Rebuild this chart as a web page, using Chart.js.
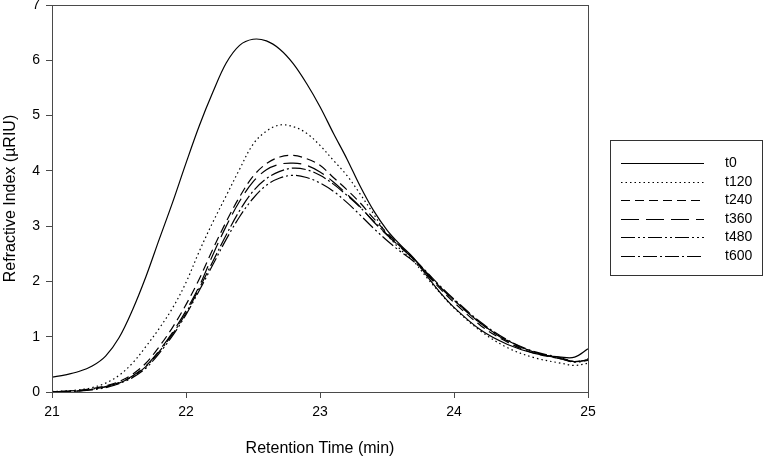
<!DOCTYPE html>
<html>
<head>
<meta charset="utf-8">
<script src="https://cdn.jsdelivr.net/npm/chart.js@4.4.0/dist/chart.umd.min.js"></script>
<style>
	html, body { margin: 0; padding: 0; background: #fff; }
</style>
</head>
<body>
<canvas id="chart" width="764" height="458"></canvas>
<script>
// retention time (min)
var times = [21.0, 21.1, 21.2, 21.3, 21.4, 21.5, 21.6, 21.7, 21.8, 21.9,
	22.0, 22.1, 22.2, 22.3, 22.4, 22.5, 22.6, 22.7, 22.8, 22.9,
	23.0, 23.1, 23.2, 23.3, 23.4, 23.5, 23.6, 23.7, 23.8, 23.9,
	24.0, 24.2, 24.4, 24.6, 24.8, 24.9, 25.0];

var t0 = [0.27, 0.31, 0.37, 0.47, 0.65, 0.98, 1.48, 2.08, 2.76, 3.43,
	4.14, 4.82, 5.42, 5.95, 6.27, 6.38, 6.35, 6.20, 5.94, 5.58,
	5.16, 4.68, 4.22, 3.72, 3.28, 2.93, 2.66, 2.42, 2.09, 1.79,
	1.53, 1.12, 0.86, 0.70, 0.63, 0.63, 0.78];
var t120 = [0.01, 0.02, 0.04, 0.08, 0.16, 0.30, 0.52, 0.82, 1.15, 1.52,
	1.98, 2.55, 3.07, 3.55, 4.03, 4.48, 4.72, 4.83, 4.80, 4.68,
	4.46, 4.19, 3.92, 3.58, 3.22, 2.85, 2.58, 2.36, 2.06, 1.78,
	1.52, 1.10, 0.80, 0.62, 0.52, 0.48, 0.52];
var t240 = [0.00, 0.01, 0.03, 0.06, 0.11, 0.19, 0.32, 0.52, 0.82, 1.17,
	1.58, 2.05, 2.58, 3.08, 3.53, 3.90, 4.13, 4.25, 4.28, 4.22,
	4.10, 3.88, 3.66, 3.42, 3.14, 2.88, 2.64, 2.40, 2.12, 1.86,
	1.62, 1.20, 0.90, 0.70, 0.60, 0.55, 0.58];
var t360 = [0.00, 0.01, 0.02, 0.05, 0.10, 0.17, 0.29, 0.47, 0.75, 1.08,
	1.47, 1.92, 2.48, 3.00, 3.45, 3.80, 4.02, 4.12, 4.14, 4.10,
	3.98, 3.80, 3.58, 3.35, 3.08, 2.84, 2.62, 2.40, 2.15, 1.89,
	1.66, 1.24, 0.92, 0.72, 0.60, 0.55, 0.60];
var t480 = [0.00, 0.01, 0.02, 0.04, 0.08, 0.15, 0.26, 0.43, 0.70, 1.02,
	1.40, 1.84, 2.30, 2.76, 3.17, 3.50, 3.74, 3.87, 3.92, 3.88,
	3.78, 3.63, 3.43, 3.20, 2.96, 2.74, 2.54, 2.36, 2.13, 1.89,
	1.66, 1.24, 0.93, 0.72, 0.60, 0.54, 0.57];
var t600 = [0.00, 0.01, 0.02, 0.05, 0.09, 0.16, 0.28, 0.46, 0.73, 1.05,
	1.43, 1.88, 2.36, 2.84, 3.28, 3.63, 3.86, 3.99, 4.05, 4.02,
	3.92, 3.76, 3.56, 3.34, 3.09, 2.85, 2.63, 2.41, 2.16, 1.91,
	1.68, 1.26, 0.94, 0.73, 0.62, 0.55, 0.58];

var seriesNames = ['t0', 't120', 't240', 't360', 't480', 't600'];
var seriesValues = [t0, t120, t240, t360, t480, t600];
var dashes = [[], [1.5, 3], [9, 5], [18, 7], [14, 3, 2, 3, 2, 3], [14, 3, 2, 3]];

var xTicks = [21, 22, 23, 24, 25];
var yTicks = [0, 1, 2, 3, 4, 5, 6, 7];

function points(values) {
	return values.map(function (v, i) {
		return { x: times[i], y: v };
	});
}

// box round the plot plus the legend with line samples
var framePlugin = {
	id: 'frame',
	afterDraw: function (chart) {
		var ctx = chart.ctx;
		var a = chart.chartArea;
		ctx.save();
		ctx.strokeStyle = '#4a4a4a';
		ctx.lineWidth = 1;
		ctx.strokeRect(Math.round(a.left) + 0.5, Math.round(a.top) + 0.5,
			Math.round(a.right - a.left), Math.round(a.bottom - a.top));

		ctx.strokeStyle = '#333';
		ctx.strokeRect(610.5, 140.5, 152, 135);
		ctx.font = '14px "Liberation Sans", Arial, sans-serif';
		ctx.fillStyle = '#000';
		ctx.textBaseline = 'middle';
		chart.data.datasets.forEach(function (ds, i) {
			var y = Math.round(163 + i * 18.6) + 0.5;
			ctx.strokeStyle = '#000';
			ctx.lineWidth = 1.2;
			ctx.setLineDash(ds.borderDash);
			ctx.beginPath();
			ctx.moveTo(621, y);
			ctx.lineTo(704, y);
			ctx.stroke();
			ctx.setLineDash([]);
			ctx.fillText(ds.label, 725, y);
		});
		ctx.restore();
	}
};

new Chart(document.getElementById('chart'), {
	type: 'line',
	data: {
		datasets: seriesNames.map(function (name, i) {
			return {
				label: name,
				data: points(seriesValues[i]),
				borderColor: '#000',
				borderWidth: 1.2,
				borderDash: dashes[i],
				pointRadius: 0,
				tension: 0.35,
				fill: false
			};
		})
	},
	options: {
		responsive: false,
		animation: false,
		layout: { padding: { top: 5, right: 176, left: 0, bottom: 0 } },
		plugins: { legend: { display: false }, tooltip: { enabled: false } },
		scales: {
			x: {
				type: 'linear',
				min: 21,
				max: 25,
				afterBuildTicks: function (scale) {
					scale.ticks = xTicks.map(function (v) { return { value: v }; });
				},
				afterFit: function (scale) {
					scale.height = 66;
					scale.paddingLeft = 0;
					scale.paddingRight = 0;
				},
				border: { display: false },
				grid: { drawOnChartArea: false, drawTicks: true, tickLength: 6, color: '#4a4a4a' },
				ticks: {
					color: '#000',
					padding: 6,
					maxRotation: 0,
					font: { family: '"Liberation Sans", Arial, sans-serif', size: 14 }
				},
				title: {
					display: true,
					text: 'Retention Time (min)',
					color: '#000',
					padding: { top: 0, bottom: 0 },
					font: { family: '"Liberation Sans", Arial, sans-serif', size: 16 }
				}
			},
			y: {
				min: 0,
				max: 7,
				afterBuildTicks: function (scale) {
					scale.ticks = yTicks.map(function (v) { return { value: v }; });
				},
				afterFit: function (scale) {
					scale.width = 52;
					scale.paddingTop = 0;
					scale.paddingBottom = 0;
				},
				border: { display: false },
				grid: { drawOnChartArea: false, drawTicks: true, tickLength: 6, color: '#4a4a4a' },
				ticks: {
					color: '#000',
					padding: 6,
					font: { family: '"Liberation Sans", Arial, sans-serif', size: 14 }
				},
				title: {
					display: true,
					text: 'Refractive Index (\u00b5RIU)',
					color: '#000',
					padding: { top: 1, bottom: 0 },
					font: { family: '"Liberation Sans", Arial, sans-serif', size: 16 }
				}
			}
		}
	},
	plugins: [framePlugin]
});
</script>
</body>
</html>
